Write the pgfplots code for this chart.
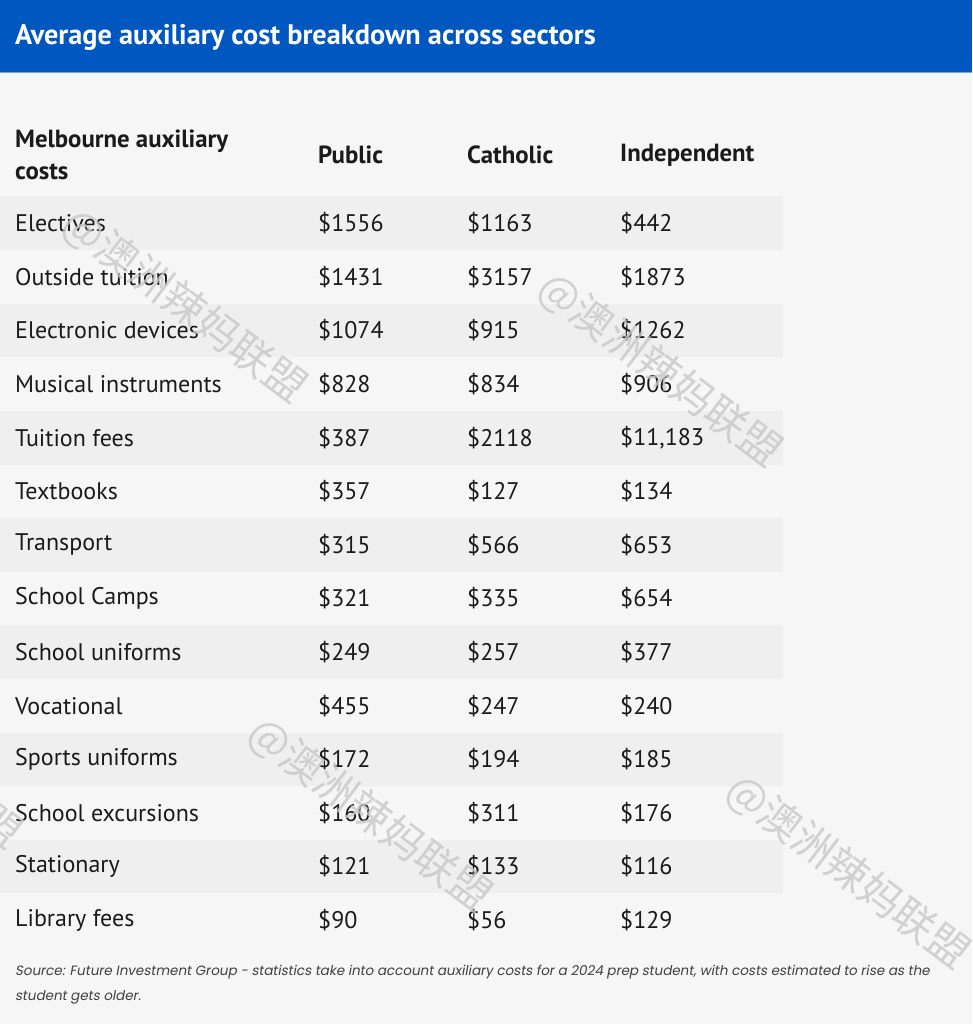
\documentclass[border=0pt]{standalone}
\usepackage{pgfplots}
\pgfplotsset{compat=1.18}
\usepackage{pgfplotstable}
\usepackage{fontspec}
\setmainfont{PT Sans}
\newfontfamily\srcfont[FakeSlant=0.18]{Poppins}
\newfontfamily\cjk{Noto Sans CJK SC}
\definecolor{hdrblue}{RGB}{0,87,192}
\definecolor{bg}{RGB}{246,246,246}
\definecolor{band}{RGB}{239,239,239}
\definecolor{ink}{RGB}{26,26,26}
\definecolor{wm}{RGB}{200,200,200}

\pgfplotstableread{
y name pub cat ind
223.3 {Electives} {\$1556} {\$1163} {\$442}
276.9 {Outside tuition} {\$1431} {\$3157} {\$1873}
330.5 {Electronic devices} {\$1074} {\$915} {\$1262}
384.1 {Musical instruments} {\$828} {\$834} {\$906}
437.7 {Tuition fees} {\$387} {\$2118} {\$11,183}
491.3 {Textbooks} {\$357} {\$127} {\$134}
544.9 {Transport} {\$315} {\$566} {\$653}
598.5 {School Camps} {\$321} {\$335} {\$654}
652.1 {School uniforms} {\$249} {\$257} {\$377}
705.7 {Vocational} {\$455} {\$247} {\$240}
759.3 {Sports uniforms} {\$172} {\$194} {\$185}
812.9 {School excursions} {\$160} {\$311} {\$176}
866.5 {Stationary} {\$121} {\$133} {\$116}
920.1 {Library fees} {\$90} {\$56} {\$129}
}\costs

\pgfplotstableread{
x y t
185 306 {@澳洲辣妈联盟}
660 370 {@澳洲辣妈联盟}
370 815 {@澳洲辣妈联盟}
848 872 {@澳洲辣妈联盟}
-100 752 {@澳洲辣妈联盟}
}\marks

\begin{document}
\begin{tikzpicture}
\begin{axis}[
  name=ax,
  scale only axis, width=972pt, height=1024pt,
  xmin=0, xmax=972, ymin=0, ymax=1024, y dir=reverse,
  hide axis, clip=false,
  every node near coord/.append style={anchor=west, inner sep=0pt, text=ink,
     font=\fontsize{24}{28}\selectfont},
]
% background
\fill[bg] (axis cs:0,0) rectangle (axis cs:972,1024);
\fill[hdrblue] (axis cs:0,0) rectangle (axis cs:972,72);
\fill[hdrblue!55!white] (axis cs:0,72) rectangle (axis cs:972,73.5);
% bands
\pgfplotsinvokeforeach{0,2,4,6,8,10,12}{
  \fill[band] (axis cs:0,{196.5+53.6*#1}) rectangle (axis cs:783,{250.1+53.6*#1});
}
% title
\addplot[draw=none, nodes near coords, point meta=explicit symbolic,
  every node near coord/.append style={text=white, font=\fontsize{28.3}{32}\selectfont\bfseries}]
  coordinates {(15,37) [Average auxiliary cost breakdown across sectors]};
% header
\addplot[draw=none, nodes near coords, point meta=explicit symbolic,
  every node near coord/.append style={font=\fontsize{24.8}{32}\selectfont\bfseries, align=left}]
  coordinates {(15,155) [{Melbourne auxiliary\\costs}] (318,155) [Public] (467,155) [Catholic] (620,155) [Independent]};
% body
\addplot[draw=none, nodes near coords, point meta=explicit symbolic] table[x expr=15, y=y, meta=name] {\costs};
\addplot[draw=none, nodes near coords, point meta=explicit symbolic] table[x expr=318, y=y, meta=pub] {\costs};
\addplot[draw=none, nodes near coords, point meta=explicit symbolic] table[x expr=467, y=y, meta=cat] {\costs};
\addplot[draw=none, nodes near coords, point meta=explicit symbolic] table[x expr=620, y=y, meta=ind] {\costs};
% source
\addplot[draw=none, nodes near coords, point meta=explicit symbolic,
  every node near coord/.append style={text=black!75, font=\fontsize{13.5}{25}\selectfont\srcfont, align=left}]
  coordinates {(15,985) [{Source: Future Investment Group - statistics take into account auxiliary costs for a 2024 prep student, with costs estimated to rise as the\\student gets older.}]};
% watermarks
\addplot[draw=none, nodes near coords, point meta=explicit symbolic,
  every node near coord/.append style={anchor=center, text=wm, text opacity=0.8, rotate=-37, font=\fontsize{42}{42}\selectfont\cjk}]
  table[x=x, y=y, meta=t] {\marks};
\end{axis}
\pgfresetboundingbox
\useasboundingbox (ax.south west) rectangle (ax.north east);
\end{tikzpicture}
\end{document}
